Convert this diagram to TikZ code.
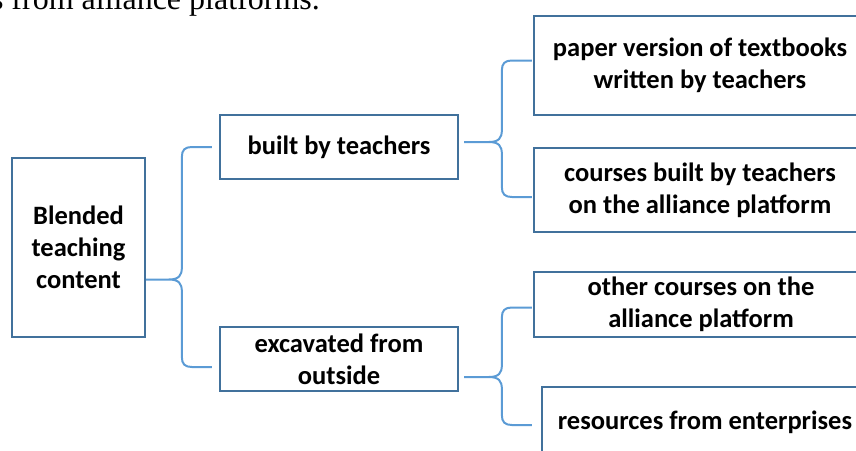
\documentclass[tikz,border=0pt]{standalone}
\usepackage{fontspec}
\setmainfont{Carlito}
\newfontfamily\timesfont{Liberation Serif}
\usetikzlibrary{positioning, calc}
\definecolor{boxblue}{HTML}{41719C}
\definecolor{braceblue}{HTML}{5B9BD5}

\begin{document}
\begin{tikzpicture}[x=1pt, y=-1pt,
		box/.style={draw=boxblue, line width=2.3pt, rectangle, inner sep=0pt, align=center, font=\bfseries\fontsize{26.5}{32}\selectfont},
		arm/.style={draw=braceblue, line width=2pt, to path={let \p1=(\tikztostart), \p2=(\tikztotarget), \n1={sign(\y2-\y1)} in
			-- (\x2-43,\y1) .. controls (\x2-33,\y1) and (\x2-30,\y1+4*\n1) .. (\x2-30,\y1+12*\n1)
			-- (\x2-30,\y2-10*\n1) .. controls (\x2-30,\y2-3*\n1) and (\x2-27,\y2) .. (\x2-20,\y2) -- (\tikztotarget)}}]
			\clip (0,0) rectangle (856,450);
			% cut-off line of the text above
			\node (cut) [anchor=base east, inner sep=0pt, font=\timesfont\fontsize{32}{38}\selectfont] at (320,9) {s from alliance platforms.};
			\node (blend) [box, minimum width=133pt, minimum height=179pt] at (78.5,247.5) {Blended\\teaching\\content};
			\node (built) [box, minimum width=238pt, minimum height=64pt] at (339,147) {built by teachers};
			\node (excav) [box, minimum width=238pt, minimum height=64pt] at (339,359) {excavated from\\outside};
			\node (paper) [box, minimum width=332pt, minimum height=99pt] at (700,65.5) {paper version of textbooks\\written by teachers};
			\node (courses) [box, minimum width=332pt, minimum height=84pt] at (700,190) {courses built by teachers\\on the alliance platform};
			\node (other) [box, minimum width=334pt, minimum height=65pt] at (701,304.5) {other courses on the\\alliance platform};
			\node (res) [box, minimum width=326pt, minimum height=70pt] at (705,422) {resources from enterprises};
			\draw[arm] ($(blend.east)+(0,32)$) to ($(built.west)+(-7,0)$)
				($(blend.east)+(0,32)$) to ($(excav.west)+(-7,8)$);
			\draw[arm] ($(built.east)+(5,-5)$) to ($(paper.west)+(-1,-5)$)
				($(built.east)+(5,-5)$) to ($(courses.west)+(-1,7)$);
			\draw[arm] ($(excav.east)+(5,18)$) to ($(other.west)+(-1,3)$)
				($(excav.east)+(5,18)$) to ($(res.west)+(-9,3)$);
		\end{tikzpicture}
\end{document}
